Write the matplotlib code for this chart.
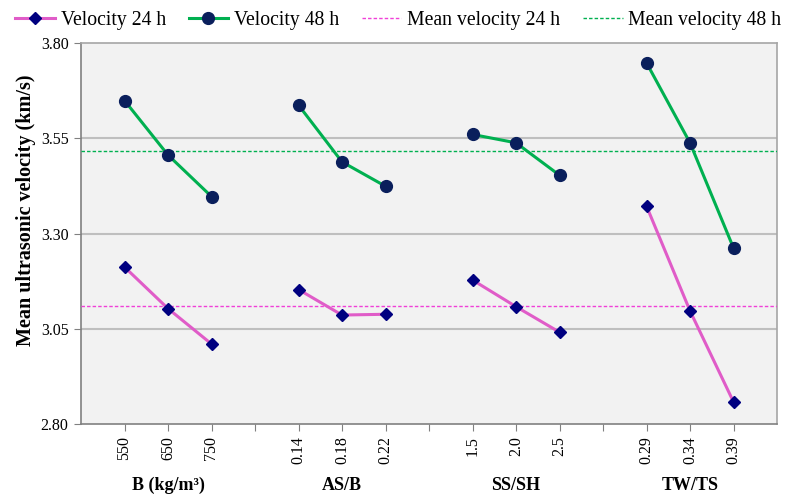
import matplotlib.pyplot as plt
import matplotlib.transforms as mtransforms
from matplotlib.lines import Line2D

plt.rcParams['font.family'] = ['Liberation Serif', 'DejaVu Serif']

# data
factors = ['B (kg/m³)', 'AS/B', 'SS/SH', 'TW/TS']
levels = [['550', '650', '750'],
          ['0.14', '0.18', '0.22'],
          ['1.5', '2.0', '2.5'],
          ['0.29', '0.34', '0.39']]
vel_24h = [3.212, 3.103, 3.010,
           3.153, 3.086, 3.088,
           3.178, 3.108, 3.041,
           3.372, 3.097, 2.858]
vel_48h = [3.649, 3.506, 3.397,
           3.637, 3.488, 3.424,
           3.560, 3.538, 3.453,
           3.748, 3.538, 3.262]
mean_24h = 3.109
mean_48h = 3.517

PINK = '#E05CC8'
MEAN_PINK = '#F040D8'
GREEN = '#00B050'
NAVY = '#000080'
DARK = '#0A1F5C'

fig = plt.figure(figsize=(7.89, 4.95), dpi=100)
ax = fig.add_axes([81/789, 71/495, 696/789, 381/495])
ax.set_facecolor('#F2F2F2')

# x positions: 3 levels per factor, one empty slot between factors
xpos = []
for g in range(len(factors)):
    xpos += [g*4 + 1 + k for k in range(3)]

for g in range(len(factors)):
    xs = xpos[g*3:g*3+3]
    ax.plot(xs, vel_24h[g*3:g*3+3], color=PINK, lw=2.2, marker='D',
            ms=6, mfc=NAVY, mec=NAVY, zorder=4)
    ax.plot(xs, vel_48h[g*3:g*3+3], color=GREEN, lw=2.2, marker='o',
            ms=8.5, mfc=DARK, mec=DARK, zorder=4)

ax.axhline(mean_24h, color=MEAN_PINK, lw=1.0, ls=(0, (2.5, 1.5)), zorder=3)
ax.axhline(mean_48h, color=GREEN, lw=1.0, ls=(0, (2.5, 1.5)), zorder=3)

ax.set_xlim(0, 16)
ax.set_ylim(2.80, 3.80)
yt = [2.80, 3.05, 3.30, 3.55, 3.80]
ax.set_yticks(yt)
ax.set_yticklabels(['%.2f' % v for v in yt], fontsize=11.5)
for v in yt[1:-1]:
    ax.axhline(v, color='#BFBFBF', lw=1.5, zorder=1)

ticks = list(range(1, 16))
labels = []
for t in ticks:
    if t % 4 == 0:
        labels.append('')
    else:
        g = t // 4
        labels.append(levels[g][t - g*4 - 1])
ax.set_xticks(ticks)
ax.set_xticklabels(labels, rotation=90, fontsize=11.5)
ax.tick_params(axis='both', direction='out', length=5, color='#808080', pad=4)

for side in ['left', 'bottom']:
    ax.spines[side].set_color('#808080')
    ax.spines[side].set_linewidth(1.2)
for side in ['top', 'right']:
    ax.spines[side].set_color('#A6A6A6')
    ax.spines[side].set_linewidth(1.2)

ax.set_ylabel('Mean ultrasonic velocity (km/s)', fontsize=14.5, fontweight='bold')
ax.yaxis.set_label_coords(-0.064, 0.56)

trans = mtransforms.blended_transform_factory(ax.transData, fig.transFigure)
for g, name in enumerate(factors):
    ax.text(g*4 + 2, 10/495, name, transform=trans, ha='center', va='center',
            fontsize=13, fontweight='bold')

handles = [
    Line2D([], [], color=PINK, lw=2.2, marker='D', ms=6, mfc=NAVY, mec=NAVY),
    Line2D([], [], color=GREEN, lw=2.2, marker='o', ms=8.5, mfc=DARK, mec=DARK),
    Line2D([], [], color=MEAN_PINK, lw=1.0, ls=(0, (2.5, 1.5))),
    Line2D([], [], color=GREEN, lw=1.0, ls=(0, (2.5, 1.5))),
]
names = ['Velocity 24 h', 'Velocity 48 h', 'Mean velocity 24 h', 'Mean velocity 48 h']
fig.legend(handles, names, loc='upper center', bbox_to_anchor=(0.505, 1.013), ncol=4,
           frameon=False, fontsize=14.2, handlelength=2.0, handletextpad=0.3,
           columnspacing=1.15)

fig.savefig('out.png', dpi=100)
